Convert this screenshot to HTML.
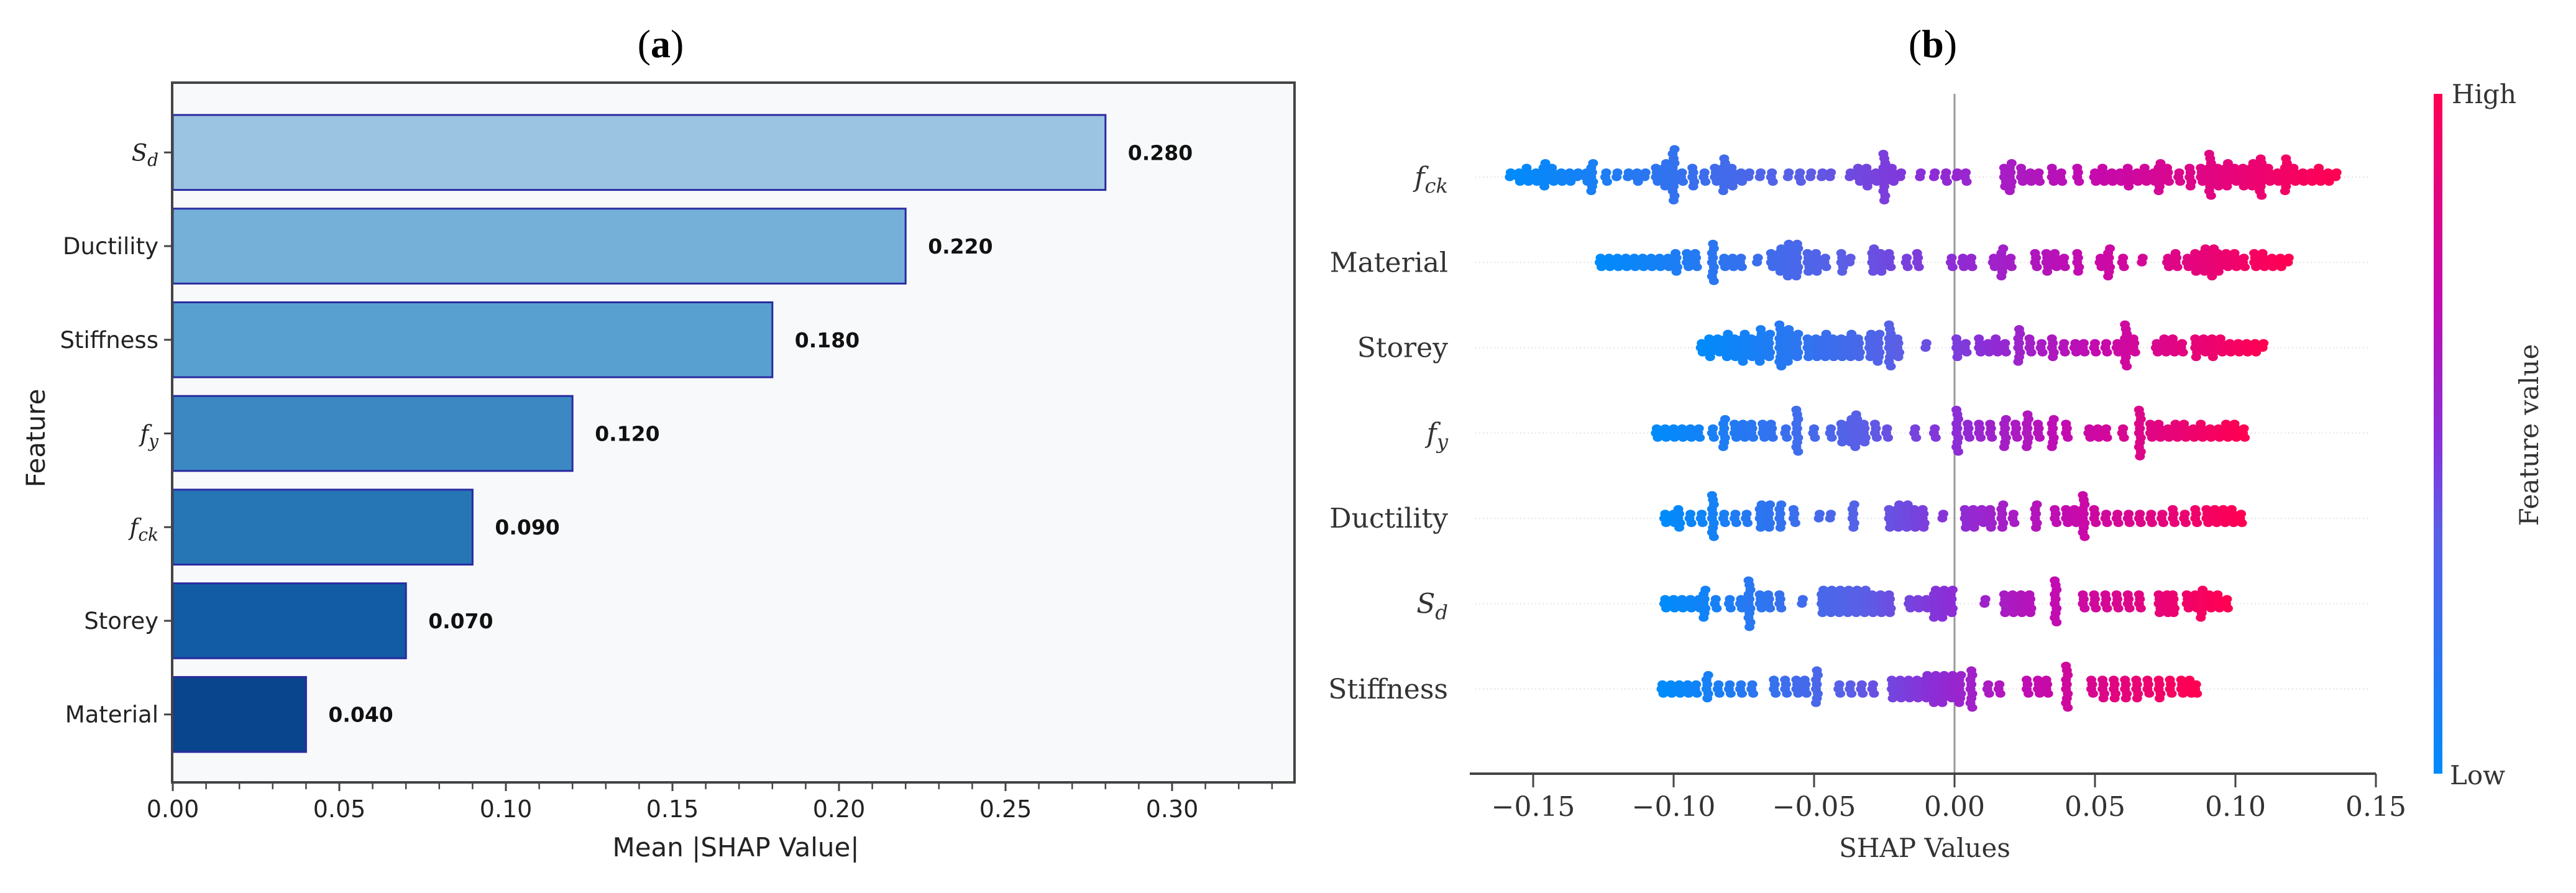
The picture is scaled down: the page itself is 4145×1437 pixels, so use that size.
<!DOCTYPE html>
<html><head><meta charset="utf-8"><style>
html,body{margin:0;padding:0;background:#fff;}
svg{display:block;}
</style></head><body>
<svg id="fig" width="4145" height="1437" viewBox="0 0 4145 1437" xmlns="http://www.w3.org/2000/svg">
<defs>
<linearGradient id="cbar" x1="0" y1="1" x2="0" y2="0">
<stop offset="0" stop-color="#008bfb"/><stop offset="0.35" stop-color="#5a5fe6"/><stop offset="0.5" stop-color="#8a2fd8"/><stop offset="0.7" stop-color="#c40ab0"/><stop offset="1" stop-color="#ff0052"/>
</linearGradient>
</defs>
<g id="panelA"></g>
<g id="panelB"></g>
</svg>
<script>
// ---------- Panel (a) data ----------
const barCategories = ["Sd","Ductility","Stiffness","fy","fck","Storey","Material"];
const barValues = [0.280,0.220,0.180,0.120,0.090,0.070,0.040];
const barLabels = ["0.280","0.220","0.180","0.120","0.090","0.070","0.040"];
const barColors = ["#9ac4e2","#74b0d8","#58a0cf","#3b88c2","#2675b5","#125ca6","#08458c"];
const barTicks = [0,0.05,0.10,0.15,0.20,0.25,0.30];
const barTickLabels = ["0.00","0.05","0.10","0.15","0.20","0.25","0.30"];

// ---------- Panel (b) data ----------
const swarmFeatures = ["fck","Material","Storey","fy","Ductility","Sd","Stiffness"];
const shapTicks = [-0.15,-0.10,-0.05,0,0.05,0.10,0.15];
const shapTickLabels = ["\u22120.15","\u22120.10","\u22120.05","0.00","0.05","0.10","0.15"];
const fckVals = [-0.158,-0.155,-0.152,-0.149,-0.146,-0.143,-0.140,-0.137,-0.134,-0.131,-0.129,-0.124,-0.120,-0.116,-0.113,-0.110,-0.106,-0.103,-0.100,-0.097,-0.093,-0.089,-0.085,-0.082,-0.079,-0.076,-0.073,-0.069,-0.065,-0.059,-0.055,-0.051,-0.047,-0.044,-0.037,-0.034,-0.031,-0.028,-0.025,-0.022,-0.019,-0.012,-0.007,-0.003,0.001,0.004,0.018,0.020,0.024,0.027,0.030,0.035,0.038,0.044,0.050,0.053,0.056,0.059,0.062,0.065,0.068,0.071,0.073,0.076,0.080,0.084,0.088,0.091,0.094,0.097,0.100,0.103,0.106,0.109,0.112,0.115,0.118,0.121,0.124,0.127,0.130,0.133,0.136];
const fckCounts = [2,3,4,3,6,4,3,3,2,3,7,3,2,2,3,2,4,6,12,3,5,3,4,8,5,3,2,2,3,2,3,2,2,2,2,4,5,3,11,4,2,2,2,3,2,3,5,7,4,3,3,4,3,4,3,4,3,3,5,3,4,3,7,4,3,5,4,10,5,6,4,5,6,9,4,3,8,4,3,3,4,3,2];
const materialVals = [-0.126,-0.123,-0.120,-0.117,-0.114,-0.111,-0.108,-0.105,-0.102,-0.099,-0.095,-0.092,-0.086,-0.082,-0.079,-0.076,-0.070,-0.065,-0.062,-0.059,-0.056,-0.052,-0.049,-0.046,-0.040,-0.037,-0.029,-0.026,-0.023,-0.017,-0.013,-0.001,0.003,0.006,0.014,0.017,0.020,0.029,0.033,0.036,0.039,0.044,0.052,0.055,0.060,0.067,0.076,0.079,0.083,0.086,0.089,0.092,0.094,0.097,0.100,0.103,0.107,0.110,0.113,0.116,0.119];
const materialCounts = [3,3,3,3,3,3,3,3,3,5,4,4,9,3,3,3,2,4,6,8,8,5,5,3,5,2,6,5,4,3,4,3,3,3,3,7,3,4,5,4,3,5,3,7,3,2,3,4,3,5,6,7,5,4,4,3,4,4,3,3,2];
const storeyVals = [-0.090,-0.087,-0.084,-0.081,-0.078,-0.075,-0.072,-0.069,-0.066,-0.062,-0.059,-0.056,-0.052,-0.049,-0.046,-0.043,-0.040,-0.037,-0.034,-0.030,-0.027,-0.023,-0.020,-0.010,0.001,0.004,0.009,0.012,0.015,0.018,0.023,0.027,0.031,0.035,0.039,0.043,0.046,0.050,0.054,0.058,0.061,0.064,0.072,0.075,0.078,0.081,0.086,0.089,0.092,0.095,0.098,0.101,0.104,0.107,0.110];
const storeyCounts = [3,5,4,6,5,7,5,8,6,10,8,6,5,5,6,5,5,6,5,6,7,10,5,2,5,3,4,3,4,3,8,4,3,5,3,3,3,3,3,3,10,4,3,4,4,3,5,4,5,4,3,3,3,3,2];
const fyVals = [-0.106,-0.103,-0.100,-0.097,-0.094,-0.091,-0.086,-0.082,-0.078,-0.075,-0.072,-0.068,-0.065,-0.060,-0.056,-0.050,-0.044,-0.040,-0.037,-0.035,-0.032,-0.028,-0.024,-0.014,-0.007,0.001,0.005,0.009,0.013,0.018,0.022,0.026,0.030,0.035,0.040,0.048,0.051,0.054,0.060,0.066,0.070,0.073,0.076,0.079,0.082,0.085,0.088,0.091,0.094,0.097,0.100,0.103];
const fyCounts = [3,3,3,3,3,3,3,7,4,4,4,4,4,3,10,3,3,5,6,8,5,4,3,3,3,10,4,4,4,7,4,8,4,7,4,3,3,3,3,11,4,4,3,4,4,3,4,3,3,4,4,3];
const ductVals = [-0.103,-0.100,-0.098,-0.094,-0.090,-0.086,-0.082,-0.078,-0.074,-0.069,-0.066,-0.062,-0.057,-0.048,-0.044,-0.036,-0.023,-0.020,-0.017,-0.014,-0.011,-0.004,0.004,0.007,0.010,0.013,0.017,0.021,0.029,0.036,0.040,0.043,0.046,0.050,0.054,0.058,0.062,0.066,0.070,0.074,0.078,0.082,0.086,0.090,0.093,0.096,0.099,0.102];
const ductCounts = [3,3,5,3,3,10,3,3,3,6,6,6,4,2,2,6,5,6,6,5,5,2,5,5,4,5,6,3,6,4,4,4,10,4,3,3,3,3,3,3,4,3,4,4,4,4,4,3];
const sdVals = [-0.103,-0.100,-0.097,-0.094,-0.091,-0.089,-0.085,-0.080,-0.076,-0.073,-0.069,-0.066,-0.062,-0.054,-0.047,-0.044,-0.041,-0.038,-0.035,-0.032,-0.029,-0.026,-0.023,-0.016,-0.013,-0.010,-0.007,-0.004,-0.001,0.011,0.018,0.021,0.024,0.027,0.036,0.046,0.050,0.054,0.058,0.062,0.066,0.073,0.076,0.078,0.083,0.086,0.088,0.091,0.094,0.097];
const sdCounts = [3,3,3,3,3,7,3,3,3,11,4,4,4,2,6,6,6,6,6,6,5,5,5,3,3,3,7,7,6,2,5,5,5,5,10,4,4,4,4,4,4,5,5,5,4,4,7,4,4,3];
const stiffVals = [-0.104,-0.101,-0.098,-0.095,-0.092,-0.088,-0.084,-0.080,-0.076,-0.072,-0.064,-0.060,-0.056,-0.053,-0.049,-0.041,-0.037,-0.033,-0.029,-0.022,-0.019,-0.016,-0.013,-0.010,-0.007,-0.004,-0.001,0.002,0.006,0.012,0.016,0.026,0.030,0.033,0.040,0.049,0.053,0.057,0.061,0.065,0.069,0.073,0.077,0.081,0.084,0.086];
const stiffCounts = [3,3,3,3,3,6,3,3,3,3,4,4,4,4,8,3,3,3,3,5,5,5,5,6,7,7,6,7,9,3,3,4,4,4,10,4,5,5,5,5,4,5,4,4,4,3];
const swarmVals = [fckVals,materialVals,storeyVals,fyVals,ductVals,sdVals,stiffVals];
const swarmCounts = [fckCounts,materialCounts,storeyCounts,fyCounts,ductCounts,sdCounts,stiffCounts];

const NS = "http://www.w3.org/2000/svg";
function mk(tag, attrs, parent, text){
  const e = document.createElementNS(NS, tag);
  for (const k in attrs) e.setAttribute(k, attrs[k]);
  if (text !== undefined) e.textContent = text;
  parent.appendChild(e); return e;
}

function featureLabel(t, name, serifFont, size){
  const mathNames = {"Sd":["S","d"],"fy":["f","y"],"fck":["f","ck"]};
  if (mathNames[name]) {
    const m = mathNames[name];
    t.setAttribute('font-family','"DejaVu Serif","Liberation Serif",serif');
    t.setAttribute('font-style','italic');
    const a = document.createElementNS(NS,'tspan'); a.textContent = m[0]; t.appendChild(a);
    const b = document.createElementNS(NS,'tspan'); b.textContent = m[1];
    b.setAttribute('font-size', size*0.7); b.setAttribute('dy', size*0.22); t.appendChild(b);
  } else {
    t.setAttribute('font-family', serifFont ? '"DejaVu Serif","Liberation Serif",serif' : '"DejaVu Sans","Liberation Sans",sans-serif');
    t.textContent = name;
  }
}

// ---------------- Panel A ----------------
const A = document.getElementById('panelA');
const aL=277, aR=2083, aT=133, aB=1259;
const ax0=278, axScale=5360;
const xA = v => ax0 + v*axScale;
const pitch = (aB-aT)/7.47;
const yA = i => aT + pitch*0.745 + i*pitch;
const barH = pitch*0.8;

let el = mk('text',{x:1063,y:92,'text-anchor':'middle','font-family':'"Liberation Serif",serif','font-size':64,fill:'#000'},A);


el.innerHTML = '(<tspan font-weight="bold">a</tspan>)';

el = mk('rect',{x:aL,y:aT,width:aR-aL,height:aB-aT,fill:'#f7f9fb',stroke:'none'},A);



barValues.forEach((v,i)=>{
  const r = mk('rect',{x:xA(0),y:yA(i)-barH/2,width:xA(v)-xA(0),height:barH,fill:barColors[i],stroke:'#2a2aa0','stroke-width':3},A);
  
  
  const t = mk('text',{x:xA(v)+36,y:yA(i)+12,'font-family':'"DejaVu Sans","Liberation Sans",sans-serif','font-weight':'bold','font-size':33,fill:'#111'},A,barLabels[i]);
  
  
  const tk = mk('line',{x1:aL-13,x2:aL,y1:yA(i),y2:yA(i),stroke:'#444','stroke-width':3},A);
  
  
  const lab = mk('text',{x:aL-22,y:yA(i)+13,'text-anchor':'end','font-size':37,fill:'#222'},A);
  featureLabel(lab, barCategories[i], false, 40);
  
  
});

el = mk('rect',{x:aL,y:aT,width:aR-aL,height:aB-aT,fill:'none',stroke:'#444','stroke-width':4},A);



for (let k=0;k<=33;k++){
  const v = k/100;
  const major = (k%5===0);
  const m = mk('line',{x1:xA(v),x2:xA(v),y1:aB,y2:aB+(major?14:11),stroke:'#444','stroke-width':major?3:2.5},A);
  
  
}
barTicks.forEach((v,i)=>{
  const t = mk('text',{x:xA(v),y:1315,'text-anchor':'middle','font-family':'"DejaVu Sans","Liberation Sans",sans-serif','font-size':38,fill:'#222'},A,barTickLabels[i]);
  
  
});
el = mk('text',{x:1184,y:1378,'text-anchor':'middle','font-family':'"DejaVu Sans","Liberation Sans",sans-serif','font-size':42,fill:'#222'},A,'Mean |SHAP Value|');


el = mk('text',{x:0,y:0,'text-anchor':'middle','font-family':'"DejaVu Sans","Liberation Sans",sans-serif','font-size':42,fill:'#222',transform:'translate(72,705) rotate(-90)'},A,'Feature');



// ---------------- Panel B ----------------
const B = document.getElementById('panelB');
const bZero=3145, bScale=4520, bAxisY=1245, bTop=151;
const xB = v => bZero + v*bScale;
const rowY0 = 285, rowPitch = 137.3;
const yB = i => rowY0 + i*rowPitch;

el = mk('text',{x:3110,y:92,'text-anchor':'middle','font-family':'"Liberation Serif",serif','font-size':64,fill:'#000'},B);


el.innerHTML = '(<tspan font-weight="bold">b</tspan>)';

swarmFeatures.forEach((f,i)=>{
  const g = mk('line',{x1:2374,x2:3814,y1:yB(i),y2:yB(i),stroke:'#e4e4e4','stroke-width':2,'stroke-dasharray':'2 4'},B);
  
  
});

el = mk('line',{x1:xB(0),x2:xB(0),y1:bTop,y2:bAxisY,stroke:'#999','stroke-width':3},B);



function lerp(a,b,t){return a+(b-a)*t;}
const cStops=[[0,[0,139,251]],[0.35,[90,95,230]],[0.5,[138,47,216]],[0.7,[196,10,176]],[1,[255,0,82]]];
function cmap(t){
  t=Math.max(0,Math.min(1,t));
  for(let k=0;k<cStops.length-1;k++){
    const [t0,c0]=cStops[k],[t1,c1]=cStops[k+1];
    if(t<=t1){const u=(t-t0)/(t1-t0);return 'rgb('+c0.map((c,j)=>Math.round(lerp(c,c1[j],u))).join(',')+')';}
  }
  return 'rgb(255,0,82)';
}

swarmFeatures.forEach((f,i)=>{
  const vals = swarmVals[i], cnts = swarmCounts[i];
  const vmin = Math.min(...vals), vmax = Math.max(...vals);
  const grp = mk('g',{},B);
  
  
  vals.forEach((v,j)=>{
    const n = cnts[j];
    const col = cmap((v-vmin)/(vmax-vmin));
    for(let k=0;k<n;k++){
      const off = (k%2===0?1:-1)*Math.ceil(k/2)*7.5;
      const d = mk('ellipse',{cx:xB(v)+((k%3)-1)*1.5,cy:yB(i)+off,rx:8,ry:6.5,fill:col},grp);
      
      
    }
  });
  const lab = mk('text',{x:2330,y:yB(i)+15,'text-anchor':'end','font-size':44,fill:'#333'},B);
  featureLabel(lab, f, true, 46);
  
  
});

el = mk('line',{x1:2365,x2:xB(0.15),y1:bAxisY,y2:bAxisY,stroke:'#444','stroke-width':4},B);


shapTicks.forEach((v,i)=>{
  const tk = mk('line',{x1:xB(v),x2:xB(v),y1:bAxisY,y2:bAxisY+22,stroke:'#444','stroke-width':3},B);
  
  
  const t = mk('text',{x:xB(v),y:1313,'text-anchor':'middle','font-family':'"DejaVu Serif","Liberation Serif",serif','font-size':44,fill:'#333'},B,shapTickLabels[i]);
  
  
});
el = mk('text',{x:3097,y:1379,'text-anchor':'middle','font-family':'"DejaVu Serif","Liberation Serif",serif','font-size':42,fill:'#333'},B,'SHAP Values');



el = mk('rect',{x:3916,y:bTop,width:14,height:bAxisY-bTop,fill:'url(#cbar)'},B);


el = mk('text',{x:3945,y:166,'font-family':'"DejaVu Serif","Liberation Serif",serif','font-size':42,fill:'#333'},B,'High');


el = mk('text',{x:3942,y:1262,'font-family':'"DejaVu Serif","Liberation Serif",serif','font-size':42,fill:'#333'},B,'Low');


el = mk('text',{x:0,y:0,'text-anchor':'middle','font-family':'"DejaVu Serif","Liberation Serif",serif','font-size':42,fill:'#333',transform:'translate(4084,700) rotate(-90)'},B,'Feature value');


</script>
</body></html>
